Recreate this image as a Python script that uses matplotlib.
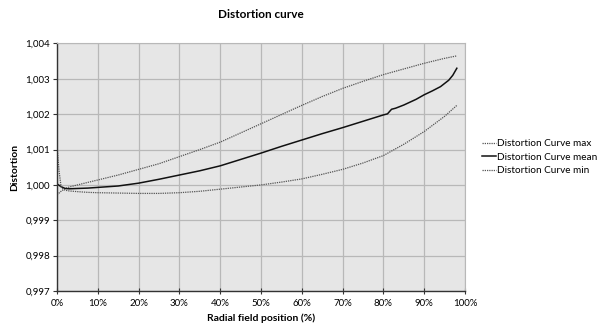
import matplotlib
matplotlib.use("Agg")
import matplotlib.pyplot as plt
from matplotlib.ticker import FuncFormatter

# radial field position in percent
x_max = [0, 1, 2, 3, 5, 7.5, 10, 15, 20, 25, 30, 35, 40, 45, 50, 55, 60, 65,
         70, 75, 80, 85, 90, 95, 98]
curve_max = [0.99972, 0.99982, 0.99990, 0.99994, 1.00000, 1.00007, 1.00014,
             1.00028, 1.00044, 1.00060, 1.00080, 1.00100, 1.00121, 1.00147,
             1.00173, 1.00199, 1.00225, 1.00250, 1.00273, 1.00293, 1.00312,
             1.00328, 1.00344, 1.00358, 1.00365]

x_mean = [0, 1, 2, 3, 5, 7.5, 10, 15, 20, 25, 30, 35, 40, 45, 50, 55, 60, 65,
          70, 75, 80, 81, 82, 83, 85, 88, 90, 92, 94, 96, 97, 98]
curve_mean = [1.00003, 0.99995, 0.99990, 0.99989, 0.99990, 0.99991, 0.99993,
              0.99997, 1.00005, 1.00016, 1.00028, 1.00040, 1.00054, 1.00072,
              1.00090, 1.00109, 1.00127, 1.00145, 1.00162, 1.00180, 1.00198,
              1.00201, 1.00214, 1.00217, 1.00226, 1.00242, 1.00255, 1.00266,
              1.00278, 1.00296, 1.00310, 1.00330]

x_min = [0, 0.5, 1, 1.5, 2, 3, 5, 7.5, 10, 15, 20, 25, 30, 35, 40, 45, 50,
         55, 60, 65, 70, 75, 80, 85, 90, 95, 98]
curve_min = [1.00110, 1.00040, 0.99995, 0.99988, 0.99985, 0.99983, 0.99981,
             0.99979, 0.99978, 0.99977, 0.99976, 0.99976, 0.99978, 0.99982,
             0.99988, 0.99994, 1.00000, 1.00008, 1.00017, 1.00030, 1.00044,
             1.00062, 1.00083, 1.00115, 1.00151, 1.00194, 1.00225]

y_ticks = [0.997, 0.998, 0.999, 1.000, 1.001, 1.002, 1.003, 1.004]
x_ticks = list(range(0, 101, 10))

plt.rcParams["font.family"] = ["Lato", "DejaVu Sans"]

fig = plt.figure(figsize=(6, 3.32), dpi=100)
ax = fig.add_axes([0.095, 0.1235, 0.68, 0.7455])
ax.set_facecolor("#e6e6e6")

ax.plot(x_max, curve_max, color="#555555", lw=0.9, ls=(0, (1, 0.8)),
        label="Distortion Curve max")
ax.plot(x_mean, curve_mean, color="#111111", lw=1.1,
        label="Distortion Curve mean")
ax.plot(x_min, curve_min, color="#555555", lw=0.9, ls=(0, (1, 0.8)),
        label="Distortion Curve min")

ax.set_xlim(0, 100)
ax.set_ylim(0.997, 1.004)
ax.set_xticks(x_ticks)
ax.set_yticks(y_ticks)
ax.xaxis.set_major_formatter(FuncFormatter(lambda v, p: f"{v:.0f}%"))
ax.yaxis.set_major_formatter(
    FuncFormatter(lambda v, p: f"{v:.3f}".replace(".", ",")))
ax.tick_params(axis="x", direction="inout", length=5, width=0.8,
               labelsize=7, pad=3, color="#333333")
ax.tick_params(axis="y", direction="out", length=3, width=0.8,
               labelsize=7, pad=2, color="#333333")

ax.grid(True, color="#b8b8b8", lw=0.9)
ax.set_axisbelow(True)
for side in ["top", "right"]:
    ax.spines[side].set_color("#b8b8b8")
for side in ["left", "bottom"]:
    ax.spines[side].set_color("#333333")
    ax.spines[side].set_linewidth(1.0)

fig.text(0.435, 0.955, "Distortion curve", ha="center", va="center",
         fontsize=8.5, fontweight="bold")
fig.text(0.435, 0.042, "Radial field position (%)", ha="center",
         va="center", fontsize=7.5, fontweight="bold")
fig.text(0.025, 0.495, "Distortion", ha="center", va="center",
         rotation=90, fontsize=7.5, fontweight="bold")

fig.legend(loc="center left", bbox_to_anchor=(0.803, 0.527),
           frameon=False, fontsize=7.2, handlelength=1.4, handletextpad=0.15,
           labelspacing=0.45, borderpad=0, borderaxespad=0)

fig.savefig("out.png", dpi=100)
